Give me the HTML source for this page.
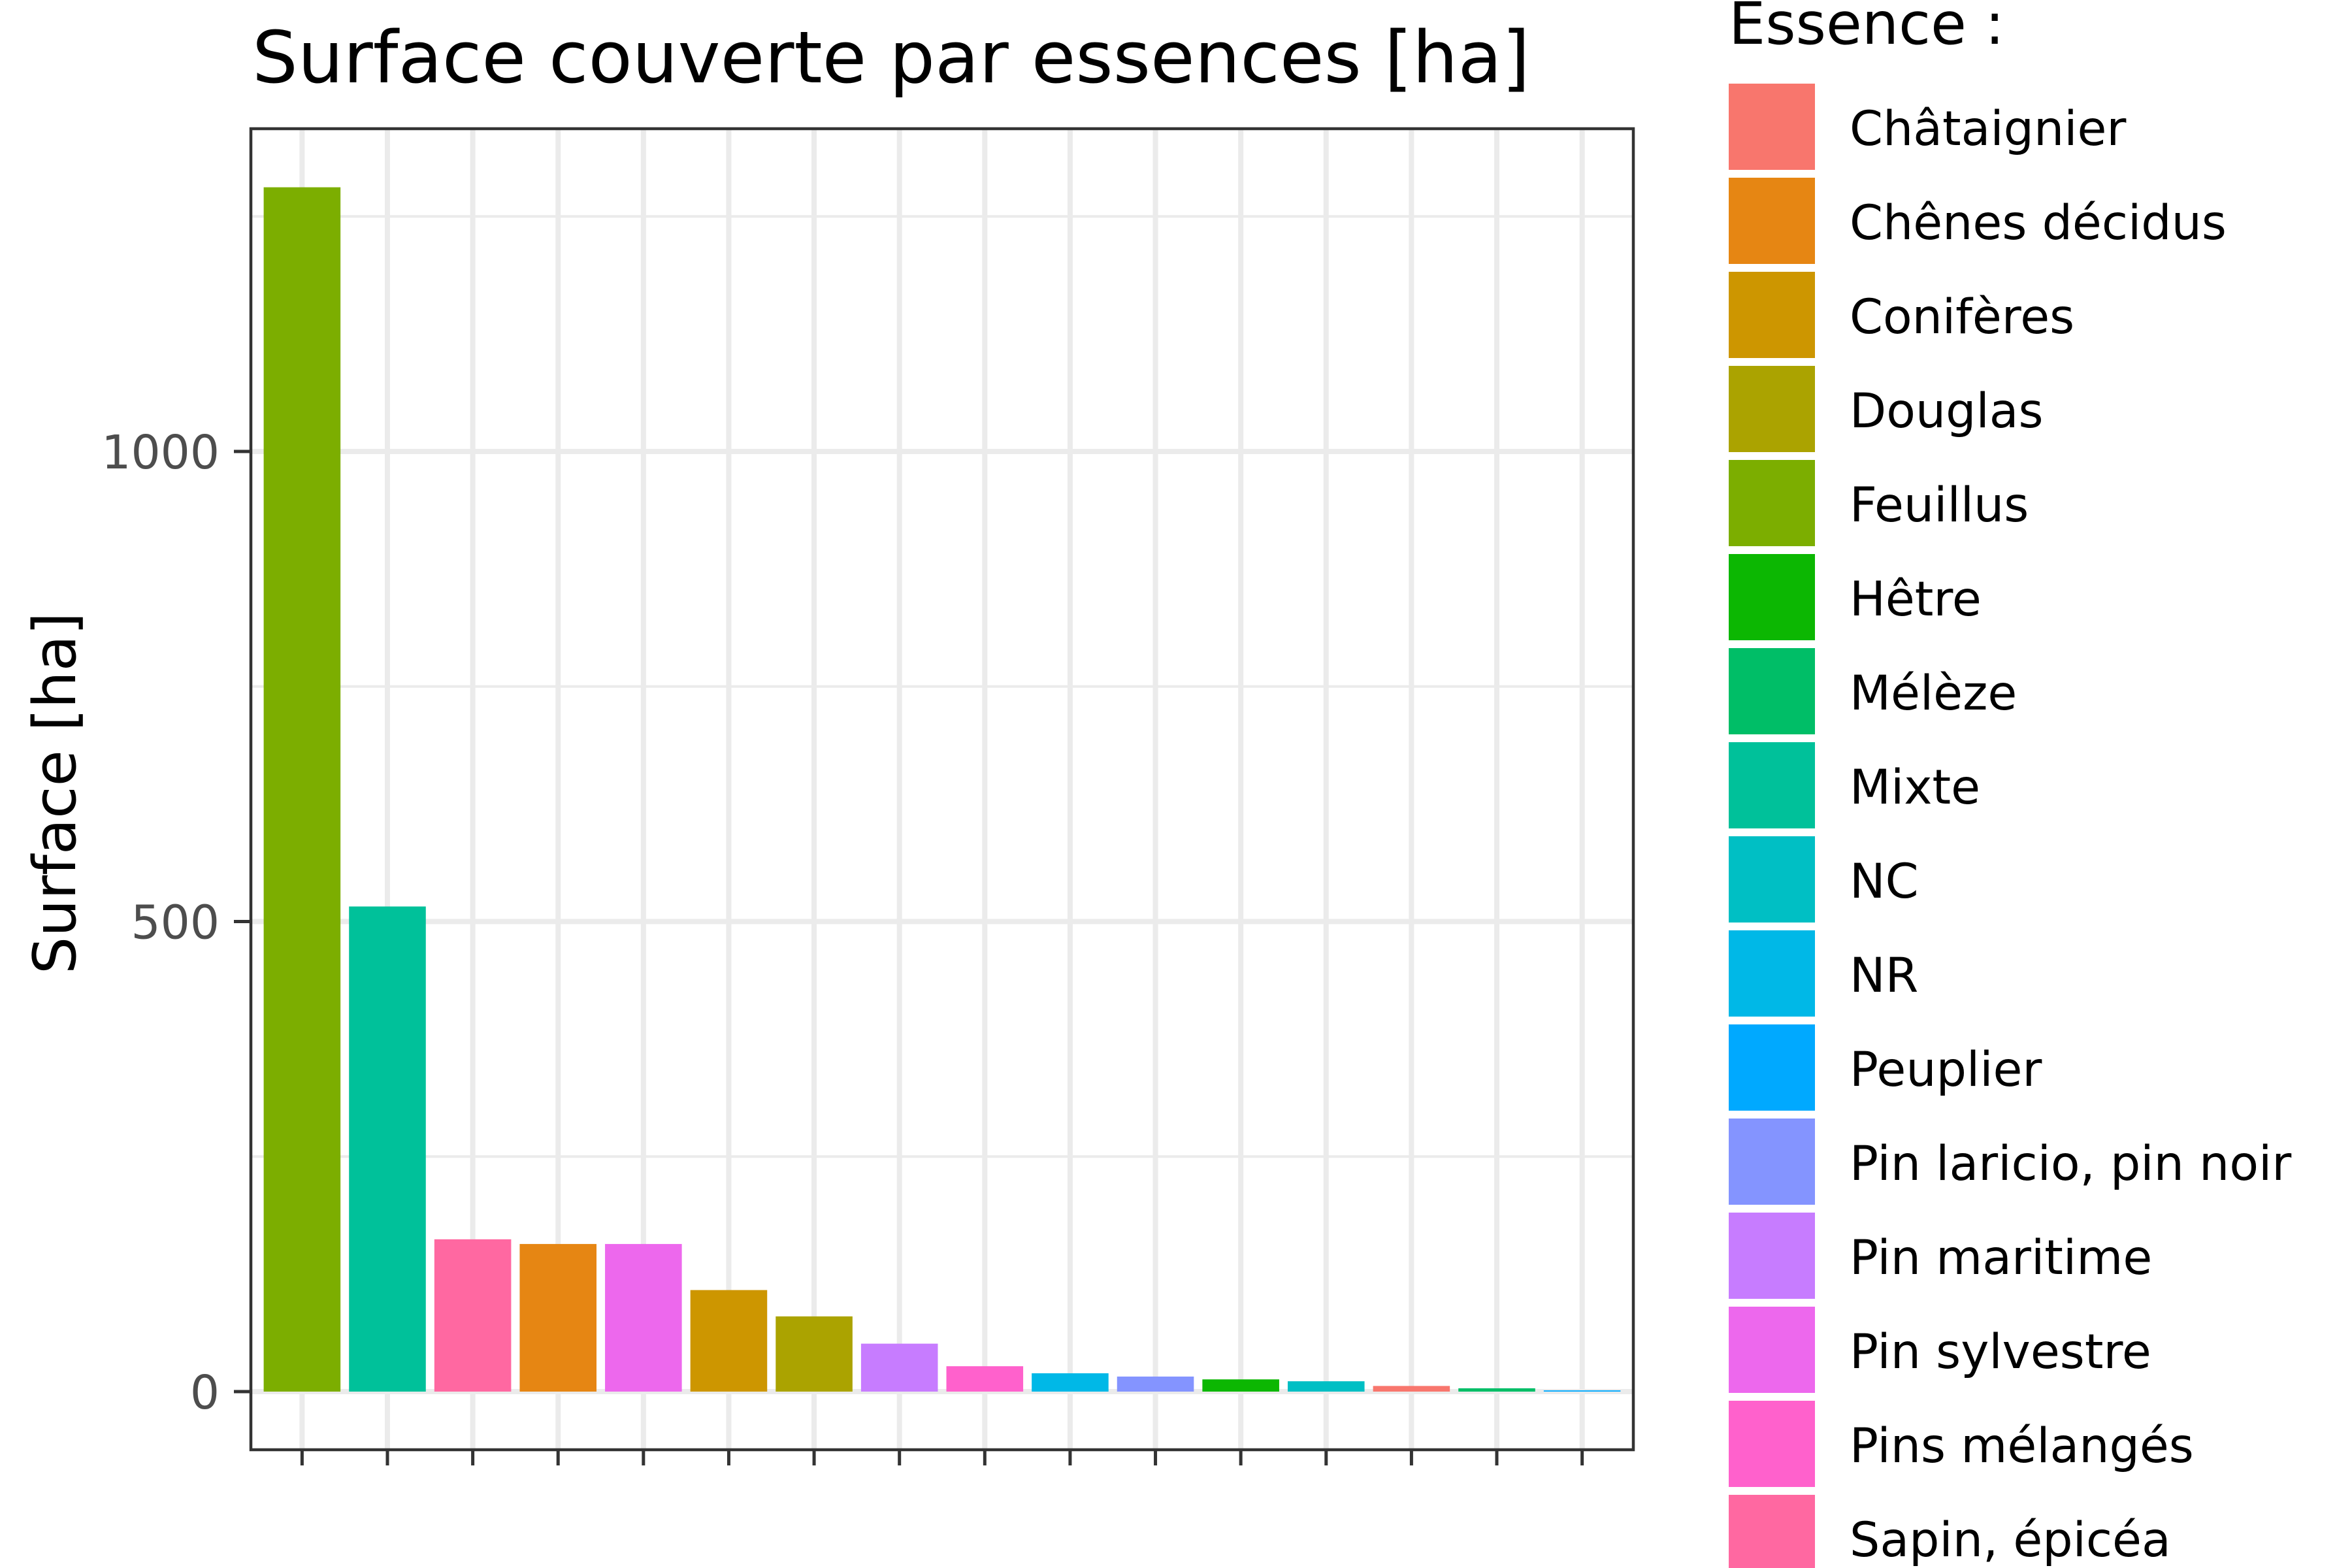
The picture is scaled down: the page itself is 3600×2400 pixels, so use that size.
<!DOCTYPE html>
<html><head><meta charset="utf-8"><style>
html,body{margin:0;padding:0;background:#fff;}
svg{display:block;font-family:"DejaVu Sans","Liberation Sans",sans-serif;}
</style></head><body>
<svg id="chart" width="3600" height="2400" viewBox="0 0 3600 2400" xmlns="http://www.w3.org/2000/svg">
<rect x="0" y="0" width="3600" height="2400" fill="#fff"/>
<text x="386" y="126" font-size="110" fill="#000">Surface couverte par essences [ha]</text>
<g id="grid"></g>
<g id="bars"></g>
<rect x="384" y="197" width="2116" height="2022" fill="none" stroke="#333" stroke-width="4.5"/>
<g id="axes"></g>
<text transform="translate(115,1214) rotate(-90)" text-anchor="middle" font-size="90" fill="#000">Surface [ha]</text>
<text x="2646" y="67" font-size="89" fill="#000">Essence :</text>
<g id="legend"></g>
</svg>
<script>
const categories = ["Feuillus","Mixte","Sapin, épicéa","Chênes décidus","Pin sylvestre","Conifères","Douglas","Pin maritime","Pins mélangés","NR","Pin laricio, pin noir","Hêtre","NC","Châtaignier","Mélèze","Peuplier"];
const values = [1281,516,162,157,157,108,80,51,27,19.5,16,13,11,6,3.5,1.3];
const legendLabels = ["Châtaignier","Chênes décidus","Conifères","Douglas","Feuillus","Hêtre","Mélèze","Mixte","NC","NR","Peuplier","Pin laricio, pin noir","Pin maritime","Pin sylvestre","Pins mélangés","Sapin, épicéa"];
const legendColors = ["#F8766D","#E68613","#CD9600","#ABA300","#7CAE00","#0CB702","#00BE67","#00C19A","#00BFC4","#00B8E7","#00A9FF","#8494FF","#C77CFF","#ED68ED","#FF61CC","#FF68A1"];
const yTicks = [0,500,1000];
const yMinor = [250,750,1250];

const NS = "http://www.w3.org/2000/svg";
const px0 = 384, px1 = 2500, py0 = 197, py1 = 2219;
const n = categories.length;
const step = (px1 - px0) / (n + 0.2);
function xScale(i){ return px0 + step * (0.6 + i); }
function yScale(v){ return 2130 - v * 1.439; }
function mk(tag, attrs, parent){ const e = document.createElementNS(NS, tag); for (const k in attrs) e.setAttribute(k, attrs[k]); parent.appendChild(e); return e; }

const grid = document.getElementById('grid');
const bars = document.getElementById('bars');
const axes = document.getElementById('axes');
const legend = document.getElementById('legend');

yMinor.forEach(v => {
  const y = yScale(v);
  if (y < py0) return;
  const l = mk('line', {x1:px0, x2:px1, y1:y, y2:y, stroke:'#ebebeb', 'stroke-width':4}, grid);
  
  
});
yTicks.forEach(v => {
  const y = yScale(v);
  const l = mk('line', {x1:px0, x2:px1, y1:y, y2:y, stroke:'#ebebeb', 'stroke-width':8}, grid);
  
  
  const t = mk('line', {x1:358, x2:384, y1:y, y2:y, stroke:'#333', 'stroke-width':5}, axes);
  
  
  const tx = mk('text', {x:336, y:y + 26, 'text-anchor':'end', 'font-size':71, fill:'#4d4d4d'}, axes);
  tx.textContent = v;
  
  
});
categories.forEach((c, i) => {
  const x = xScale(i);
  const l = mk('line', {x1:x, x2:x, y1:py0, y2:py1, stroke:'#ebebeb', 'stroke-width':8}, grid);
  
  
  const t = mk('line', {x1:x, x2:x, y1:py1, y2:py1 + 24, stroke:'#333', 'stroke-width':5}, axes);
  
  
  const bw = step * 0.9;
  const y = yScale(values[i]);
  const color = legendColors[legendLabels.indexOf(c)];
  const b = mk('rect', {x:x - bw / 2, y:y, width:bw, height:yScale(0) - y, fill:color}, bars);
  
  
});
legendLabels.forEach((lab, i) => {
  const y = 128 + i * 144;
  const k = mk('rect', {x:2646, y:y, width:132, height:132, fill:legendColors[i]}, legend);
  
  
  const t = mk('text', {x:2831, y:y + 94, 'font-size':73, fill:'#000'}, legend);
  t.textContent = lab;
  
  
});
</script>
</body></html>
